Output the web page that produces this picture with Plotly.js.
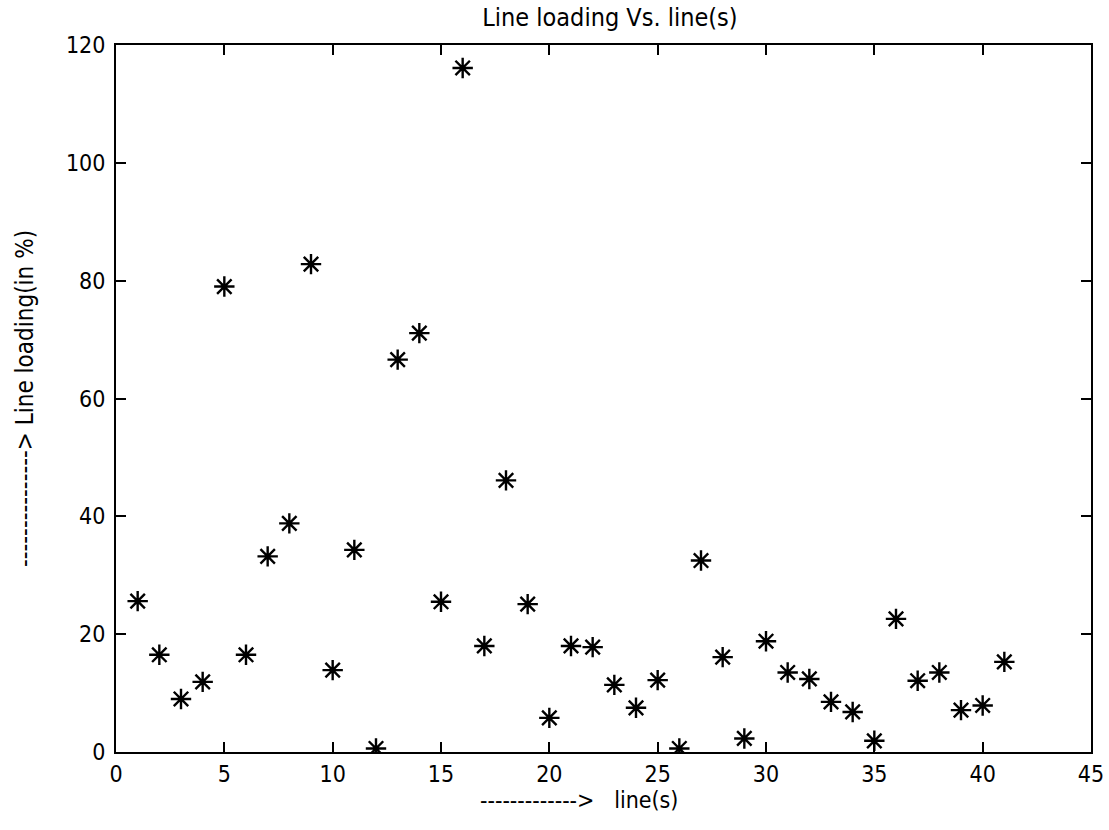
<!DOCTYPE html>
<html>
<head>
<meta charset="utf-8">
<script src="https://cdn.plot.ly/plotly-3.0.1.min.js"></script>
<style>html,body{margin:0;padding:0;background:#fff;}</style>
</head>
<body>
<div id="chart" style="width:1109px;height:830px;"></div>
<script>
const lines = [1,2,3,4,5,6,7,8,9,10,11,12,13,14,15,16,17,18,19,20,21,22,23,24,25,26,27,28,29,30,31,32,33,34,35,36,37,38,39,40,41];
const loading = [25.6,16.5,9.0,11.9,79.0,16.5,33.2,38.8,82.8,13.9,34.3,0.6,66.6,71.1,25.5,116.1,18.0,46.1,25.1,5.8,18.0,17.8,11.4,7.5,12.2,0.6,32.5,16.1,2.3,18.8,13.5,12.4,8.5,6.8,1.9,22.6,12.1,13.5,7.1,7.9,15.3];
const xTicks = [0,5,10,15,20,25,30,35,40,45];
const yTicks = [0,20,40,60,80,100,120];

const font = "Liberation Sans Narrow, DejaVu Sans Condensed, Liberation Sans, sans-serif";
const nb = n => '\u00a0'.repeat(n);

const trace = {
  x: lines, y: loading, type: 'scatter', mode: 'markers',
  marker: {symbol: 'asterisk-open', size: 17, color: '#000', line: {color: '#000', width: 2.4}},
  hoverinfo: 'skip', showlegend: false
};

const layout = {
  width: 1109, height: 830,
  margin: {l: 116, r: 18, t: 45, b: 78},
  paper_bgcolor: '#fff', plot_bgcolor: '#fff',
  font: {family: font, color: '#000', size: 22},
  title: {text: 'Line loading Vs. line(s)', font: {family: font, size: 25, color: '#000'}, x: 0.55, xanchor: 'center', y: 0.979, yanchor: 'middle'},
  xaxis: {
    range: [0, 45], tickvals: xTicks, ticktext: xTicks.map(String),
    ticks: 'inside', ticklen: 10, tickwidth: 2, tickcolor: '#000',
    showline: true, linecolor: '#000', linewidth: 2, mirror: 'ticks',
    showgrid: false, zeroline: false,
    tickfont: {family: font, size: 23, color: '#000'}
  },
  yaxis: {
    range: [0, 120], tickvals: yTicks, ticktext: yTicks.map(String),
    ticks: 'inside', ticklen: 10, tickwidth: 2, tickcolor: '#000',
    showline: true, linecolor: '#000', linewidth: 2, mirror: 'ticks',
    showgrid: false, zeroline: false, ticklabelstandoff: 4,
    tickfont: {family: font, size: 23, color: '#000'},
    title: {text: '---------------&gt; Line loading(in %)', font: {family: font, size: 24, color: '#000'}, standoff: 26}
  },
  annotations: [{
    text: '-------------&gt;' + nb(3) + 'line(s)',
    xref: 'paper', yref: 'paper', x: 0.371, y: -0.068,
    xanchor: 'left', yanchor: 'middle', showarrow: false,
    font: {family: font, size: 23, color: '#000'}
  }]
};

Plotly.newPlot('chart', [trace], layout, {staticPlot: true, displayModeBar: false});
</script>
</body>
</html>
